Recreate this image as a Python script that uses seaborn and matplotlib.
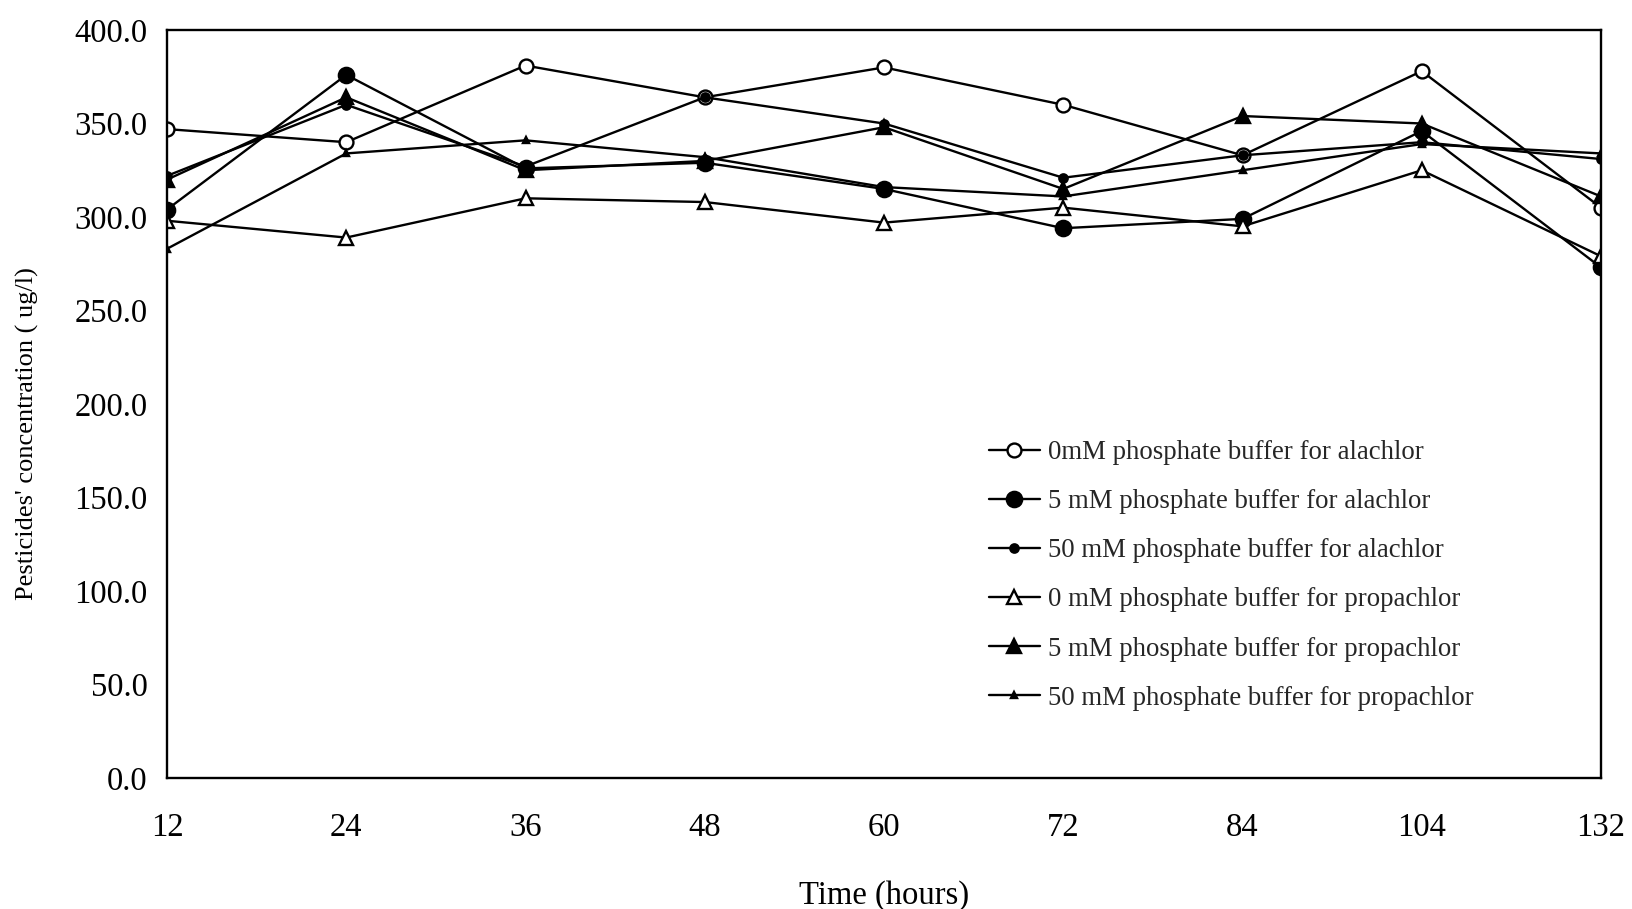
import matplotlib
matplotlib.use("Agg")
import matplotlib.pyplot as plt
import seaborn as sns
import pandas as pd

# Sampling times (hours) and measured concentrations (ug/l)
times = ["12", "24", "36", "48", "60", "72", "84", "104", "132"]

alachlor_0mM = [347, 340, 381, 364, 380, 360, 333, 378, 305]
alachlor_5mM = [304, 376, 326, 329, 315, 294, 299, 346, 273]
alachlor_50mM = [322, 360, 327, 364, 350, 321, 333, 340, 331]
propachlor_0mM = [298, 289, 310, 308, 297, 305, 295, 325, 279]
propachlor_5mM = [320, 364, 325, 330, 348, 315, 354, 350, 311]
propachlor_50mM = [283, 334, 341, 332, 316, 311, 325, 339, 334]

series_labels = [
    "0mM phosphate buffer for alachlor",
    "5 mM phosphate buffer for alachlor",
    "50 mM phosphate buffer for alachlor",
    "0 mM phosphate buffer for propachlor",
    "5 mM phosphate buffer for propachlor",
    "50 mM phosphate buffer for propachlor",
]
series_values = [alachlor_0mM, alachlor_5mM, alachlor_50mM,
                 propachlor_0mM, propachlor_5mM, propachlor_50mM]

yticks = [0, 50, 100, 150, 200, 250, 300, 350, 400]

# marker, size, face colour for each series
styles = [
    ("o", 10, "white"),
    ("o", 11, "black"),
    ("o", 6, "black"),
    ("^", 10, "white"),
    ("^", 10, "black"),
    ("^", 5, "black"),
]

sns.set_theme(style="white")
plt.rcParams["font.family"] = ["Liberation Serif", "DejaVu Serif"]

fig = plt.figure(figsize=(16.32, 9.09), dpi=100)
ax = fig.add_axes([167 / 1632, 1 - 778 / 909, (1601 - 167) / 1632, (778 - 30) / 909])

handles = []
for label, vals, (mk, ms, fc) in zip(series_labels, series_values, styles):
    df = pd.DataFrame({"time": times, "conc": vals})
    sns.lineplot(data=df, x="time", y="conc", ax=ax, color="black",
                 linewidth=1.7, marker=mk, markersize=ms,
                 markerfacecolor=fc, markeredgecolor="black",
                 markeredgewidth=1.7, label=label, legend=False)
    handles.append(ax.lines[-1])

ax.set_xlim(0, len(times) - 1)
ax.set_ylim(0, 400)
ax.set_yticks(yticks)
ax.set_yticklabels([f"{v:.1f}" for v in yticks])
ax.tick_params(axis="both", length=0, labelsize=23.5, colors="black")
ax.tick_params(axis="x", pad=25)
ax.tick_params(axis="y", pad=14)

for s in ax.spines.values():
    s.set_visible(True)
    s.set_color("black")
    s.set_linewidth(1.7)

ax.set_xlabel("Time (hours)", fontsize=23.5, color="black")
ax.set_ylabel("Pesticides' concentration ( ug/l)", fontsize=19, color="black")
ax.xaxis.set_label_coords(0.5, -0.136)
ax.yaxis.set_label_coords(-0.089, 0.46)

ax.legend(handles=handles, labels=series_labels, loc="upper left",
          bbox_to_anchor=(989 / 1632, 1 - 440 / 909),
          bbox_transform=fig.transFigure, frameon=False, fontsize=19.3,
          borderpad=0, borderaxespad=0, handlelength=1.9,
          handletextpad=0.3, labelspacing=0.9)

fig.savefig("out.png", dpi=100)
